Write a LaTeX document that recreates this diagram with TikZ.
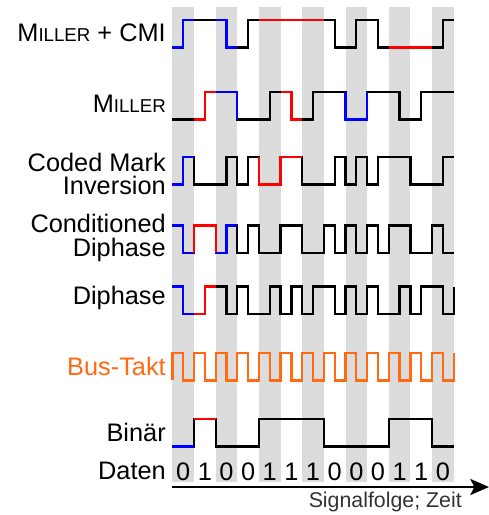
\documentclass[tikz,border=0pt]{standalone}
\usepackage{fontspec}
\setmainfont{Liberation Sans}
\usepackage{tikz}
\usetikzlibrary{arrows.meta}
\definecolor{stripegray}{HTML}{DCDCDC}
\definecolor{sigblue}{HTML}{0000FF}
\definecolor{sigred}{HTML}{FF0000}
\definecolor{clkorange}{HTML}{FF6A13}
\definecolor{axisgray}{HTML}{333333}
\newcommand{\wave}[3]{\begin{scope}[shift={(172.4,#1)},x=8.115pt,y=-20.6pt]\draw[#2] #3;\end{scope}}
\newcommand{\millersc}{M{\fontsize{14pt}{14pt}\selectfont ILLER}}

\begin{document}
\begin{tikzpicture}[x=0.75pt,y=-0.75pt,
  lbl/.style={anchor=east,align=right,inner sep=0pt,font=\fontsize{19pt}{17.5pt}\selectfont},
  digit/.style={anchor=base,inner sep=0pt,font=\fontsize{19pt}{19pt}\selectfont},
  sig/.style={line width=1.7pt},
  sigb/.style={sig,sigblue},
  sigr/.style={sig,sigred},
  clk/.style={sig,clkorange}]
  \useasboundingbox (0,0) rectangle (489,515);
  % stripes
  \foreach \k in {0,...,6} \fill[stripegray] (172.4+43.28*\k,7) rectangle ++(21.64,475);
  % labels
  \node[lbl] (lblmcmi) at (166,33) {\millersc{} + CMI};
  \node[lbl] (lblmiller) at (166,104) {\millersc};
  \node[lbl] (lblcmi) at (166,174) {Coded Mark\\Inversion};
  \node[lbl] (lblcdp) at (166,238) {Conditioned\\Diphase};
  \node[lbl] (lbldp) at (166,298) {Diphase};
  \node[lbl,text=clkorange] (lblclk) at (166,366) {Bus-Takt};
  \node[lbl] (lblbin) at (166,432) {Binär};
  \node[lbl] (lbldaten) at (166,471) {Daten};
  % Miller + CMI
  \wave{20}{sig}{(0,1) -| (1,0) -| (5,1) -| (7,0) -| (15,1) -| (17,0) -| (19,1) -| (25,0) -- (26,0)}
  \wave{20}{sigb}{(0,1) -| (1,0) -- (2,0)}
  \wave{20}{sigb}{(4,0) -| (5,1) -- (6,1)}
  \wave{20}{sigr}{(8,0) -- (14,0)}
  \wave{20}{sigr}{(20,1) -- (24,1)}
  % Miller
  \wave{92}{sig}{(0,1) -| (3,0) -| (6,1) -| (9,0) -| (11,1) -| (13,0) -| (16,1) -| (18,0) -| (21,1) -| (23,0) -- (26,0)}
  \wave{92}{sigr}{(2,1) -| (3,0) -- (4,0)}
  \wave{92}{sigb}{(4,0) -| (6,1)}
  \wave{92}{sigr}{(10,0) -| (11,1) -- (12,1)}
  \wave{92}{sigb}{(16,0) -- (16,1) -| (18,0)}
  % CMI
  \wave{157}{sig}{(0,1) -| (1,0) -| (2,1) -| (5,0) -| (6,1) -| (7,0) -| (8,1) -| (10,0) -| (12,1) -| (15,0) -| (16,1) -| (17,0) -| (18,1) -| (19,0) -| (22,1) -| (25,0) -- (26,0)}
  \wave{157}{sigb}{(0,1) -| (1,0) -- (2,0)}
  \wave{157}{sigr}{(8,0) -- (8,1) -| (10,0) -- (12,0)}
  % conditioned diphase
  \wave{225.5}{sig}{(0,0) -| (1,1) -| (2,0) -| (4,1) -| (5,0) -| (6,1) -| (7,0) -| (8,1) -| (10,0) -| (12,1) -| (14,0) -| (15,1) -| (16,0) -| (17,1) -| (18,0) -| (19,1) -| (20,0) -| (22,1) -| (24,0) -| (25,1) -- (26,1)}
  \wave{225.5}{sigb}{(0,0) -| (1,1) -- (2,1)}
  \wave{225.5}{sigr}{(2,1) -- (2,0) -| (4,1)}
  \wave{225.5}{sigb}{(4,1) -| (5,0) -- (6,0)}
  % diphase
  \wave{286.5}{sig}{(0,0) -| (1,1) -| (3,0) -| (5,1) -| (6,0) -| (7,1) -| (9,0) -| (10,1) -| (11,0) -| (12,1) -| (13,0) -| (15,1) -| (16,0) -| (17,1) -| (18,0) -| (19,1) -| (21,0) -| (22,1) -| (23,0) -| (25,1) -| (26,0)}
  \wave{286.5}{sigb}{(0,0) -| (1,1) -- (2,1)}
  \wave{286.5}{sigr}{(2,1) -| (3,0) -- (4,0)}
  % bus clock
  \wave{353}{clk}{(0,1) -- (0,0) \foreach \k in {0,...,12} {-| ({2*\k+1},1) -| ({2*\k+2},0)}}
  % binary
  \wave{419}{sig}{(0,1) -| (2,0) -| (4,1) -| (8,0) -| (14,1) -| (20,0) -| (24,1) -- (26,1)}
  \wave{419}{sigb}{(0,1) -- (2,1)}
  \wave{419}{sigr}{(2,0) -- (4,0)}
  % data bits
  \foreach \b [count=\i from 0] in {0,1,0,0,1,1,1,0,0,0,1,1,0}
    \node[digit] (d\i) at (183.2+21.64*\i,480) {\b};
  % time axis
  \coordinate (tstart) at (172.4,487);
  \coordinate (tend) at (489,487);
  \draw[line width=1.9pt,-{Stealth[length=14pt,width=12pt,inset=3pt]}] (tstart) -- (tend);
  \node[anchor=base east,inner sep=0pt,text=axisgray,font=\fontsize{16pt}{16pt}\selectfont] (tlabel) at (462,507) {Signalfolge; Zeit};
\end{tikzpicture}
\end{document}
